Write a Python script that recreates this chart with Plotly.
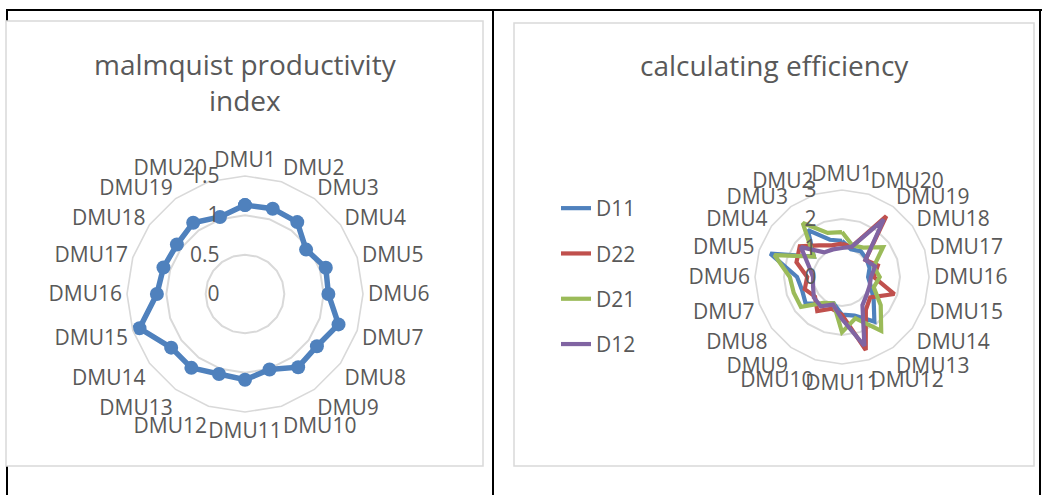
import plotly.graph_objects as go

W, H = 1042, 495

categories = ["DMU1", "DMU2", "DMU3", "DMU4", "DMU5", "DMU6", "DMU7", "DMU8", "DMU9", "DMU10",
              "DMU11", "DMU12", "DMU13", "DMU14", "DMU15", "DMU16", "DMU17", "DMU18", "DMU19", "DMU20"]

# Left chart: malmquist productivity index
malmquist = [1.13, 1.14, 1.13, 0.96, 1.08, 1.06, 1.25, 1.13, 1.15, 1.01,
             1.09, 1.07, 1.16, 1.16, 1.41, 1.12, 1.09, 1.07, 1.12, 1.03]

# Right chart: calculating efficiency
d11 = [1.25, 1.35, 2.0, 1.2, 2.6, 1.55, 1.45, 1.55, 1.15, 0.95,
       1.3, 1.4, 1.9, 1.35, 1.05, 0.9, 1.0, 1.05, 1.1, 1.0]
d22 = [1.15, 1.15, 1.35, 1.8, 1.65, 1.2, 1.35, 1.15, 1.45, 1.15,
       1.3, 2.65, 1.4, 1.2, 1.9, 1.1, 1.3, 1.0, 2.6, 1.1]
d21 = [1.55, 1.6, 2.3, 1.2, 2.45, 1.8, 1.75, 1.75, 1.1, 0.95,
       1.9, 1.5, 2.3, 1.65, 1.15, 1.3, 1.15, 1.75, 1.25, 1.15]
d12 = [1.0, 1.0, 1.05, 1.75, 1.2, 1.0, 1.05, 1.2, 1.25, 1.0,
       1.45, 2.5, 1.2, 1.05, 1.0, 1.0, 1.2, 1.0, 2.45, 1.1]

series_names = ["D11", "D22", "D21", "D12"]
series_values = [d11, d22, d21, d12]
series_colors = ["#4F81BD", "#C0504D", "#9BBB59", "#8064A2"]

left_ticks = [0, 0.5, 1, 1.5]
right_ticks = [0, 1, 2, 3]

FONT = "Open Sans"
TXT = "#595959"
GRID = "#D9D9D9"
PAD = "\u00a0\u00a0\u00a0\u00a0"


def closed(vals):
    return list(vals) + [vals[0]]


fig = go.Figure()

fig.add_trace(go.Scatterpolar(
    r=closed(malmquist), theta=closed(categories), mode="lines+markers",
    line=dict(color="#4F81BD", width=5.5), marker=dict(size=14, color="#4F81BD"),
    showlegend=False, subplot="polar", name="malmquist"))

for name, vals, col in zip(series_names, series_values, series_colors):
    fig.add_trace(go.Scatterpolar(
        r=closed(vals), theta=closed(categories), mode="lines",
        line=dict(color=col, width=4.2), name=name, legendgroup=name,
        subplot="polar2"))


def px_dom(cx, cy, rad):
    return dict(x=[(cx - rad) / W, (cx + rad) / W],
                y=[1 - (cy + rad) / H, 1 - (cy - rad) / H])


def polar_cfg(cx, cy, rad, rng, ticks, direction):
    return dict(
        domain=px_dom(cx, cy, rad),
        bgcolor="rgba(0,0,0,0)",
        gridshape="linear",
        radialaxis=dict(range=rng, tickvals=ticks, ticktext=[str(t) + PAD for t in ticks],
                        angle=90, side="counterclockwise", showline=False,
                        gridcolor=GRID, gridwidth=1.6, ticks="", tickangle=90,
                        tickfont=dict(family=FONT, size=21, color=TXT)),
        angularaxis=dict(direction=direction, rotation=90, showgrid=False,
                         showline=True, linecolor=GRID, linewidth=1.6, ticks="",
                         tickfont=dict(family=FONT, size=21, color=TXT),
                         categoryorder="array", categoryarray=categories),
    )


shapes = []
black = dict(color="black", width=2)
for (x0, y0, x1, y1) in [(6, 10, 1042, 10), (7, 10, 7, 495), (493, 10, 493, 495), (1040, 10, 1040, 495)]:
    shapes.append(dict(type="line", xref="paper", yref="paper", x0=x0 / W, x1=x1 / W,
                       y0=1 - y0 / H, y1=1 - y1 / H, line=black, layer="below"))
for (x0, y0, x1, y1) in [(6, 21, 483, 466), (514, 23, 1034, 466)]:
    shapes.append(dict(type="rect", xref="paper", yref="paper", x0=x0 / W, x1=x1 / W,
                       y0=1 - y1 / H, y1=1 - y0 / H, fillcolor="white",
                       line=dict(color=GRID, width=1.5), layer="below"))

annotations = [
    dict(text="malmquist productivity<br>index", x=245 / W, y=1 - 82 / H, xref="paper", yref="paper",
         showarrow=False, xanchor="center", yanchor="middle",
         font=dict(family=FONT, size=28, color=TXT)),
    dict(text="calculating efficiency", x=774 / W, y=1 - 65 / H, xref="paper", yref="paper",
         showarrow=False, xanchor="center", yanchor="middle",
         font=dict(family=FONT, size=28, color=TXT)),
]

fig.update_layout(
    width=W, height=H, margin=dict(l=0, r=0, t=0, b=0),
    paper_bgcolor="white", plot_bgcolor="white",
    font=dict(family=FONT, color=TXT),
    polar=polar_cfg(245, 294, 118, [0, 1.5], left_ticks, "clockwise"),
    polar2=polar_cfg(842, 277, 87, [0, 3], right_ticks, "counterclockwise"),
    shapes=shapes, annotations=annotations,
    legend=dict(x=556 / W, y=1 - 188 / H, xanchor="left", yanchor="top",
                font=dict(family=FONT, size=21, color=TXT), bgcolor="rgba(0,0,0,0)",
                tracegroupgap=15, itemwidth=30),
)

fig.write_html("out.html", config={"displayModeBar": False},
               post_script="document.body.style.margin='0';document.body.style.overflow='hidden';")
